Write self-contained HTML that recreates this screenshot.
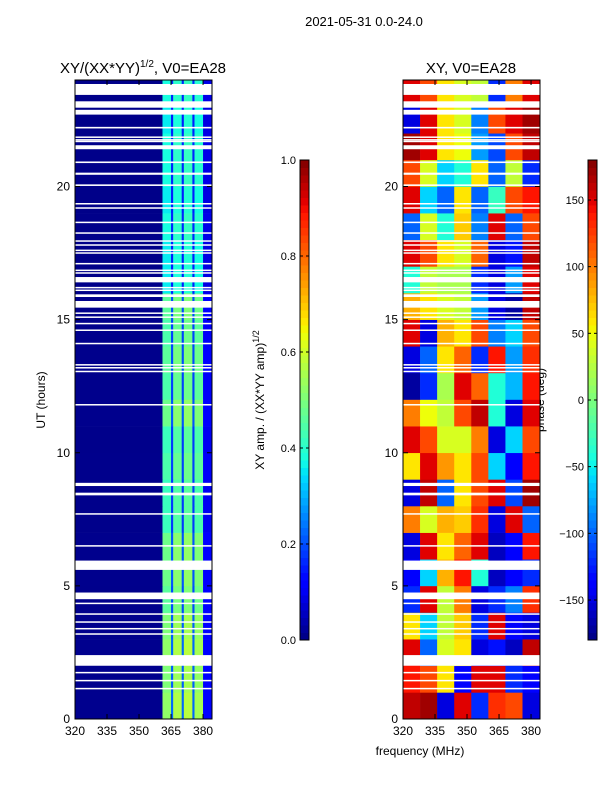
<!DOCTYPE html>
<html><head><meta charset="utf-8">
<style>
body{margin:0;background:#fff;font-family:"Liberation Sans",sans-serif;}
svg text{font-family:"Liberation Sans","DejaVu Sans",sans-serif;fill:#000;}
</style></head>
<body>
<svg id="fig" width="600" height="800" xmlns="http://www.w3.org/2000/svg">
<text x="364" y="26" font-size="13" text-anchor="middle">2021-05-31 0.0-24.0</text>
<text x="143" y="73" font-size="15" text-anchor="middle">XY/(XX*YY)<tspan font-size="10" dy="-6">1/2</tspan><tspan dy="6">, V0=EA28</tspan></text>
<text x="471" y="73" font-size="15" text-anchor="middle">XY, V0=EA28</text>
<text x="0" y="0" font-size="12" text-anchor="middle" transform="translate(45,400) rotate(-90)">UT (hours)</text>
<text x="420" y="755" font-size="12" text-anchor="middle">frequency (MHz)</text>
<text x="0" y="0" font-size="12" text-anchor="middle" transform="translate(264,400) rotate(-90)">XY amp. / (XX*YY amp)<tspan font-size="9" dy="-5">1/2</tspan></text>
<text x="0" y="0" font-size="12" text-anchor="middle" transform="translate(544,400) rotate(-90)">phase (deg)</text>
<g id="g"></g>
</svg>
<script>
// ---- data ----
const freqEdgesL=[320,361,365,366,370,371,375,376,380,384];
const ampCols=[0.01,0.42,0.18,0.45,0.18,0.46,0.18,0.44,0.1];
const hours=[0,1,2,3,4,5,6,7,8,9,10,11,12,13,14,15,16,17,18,19,20,21,22,23];
const ampRowScale=[1.25,1.2,1.25,1.2,1.1,1.15,1.15,1.0,1.0,1.05,1.0,1.15,1.05,1.1,1.05,1.1,0.85,0.85,0.9,0.85,0.9,0.9,0.85,0.9];
const phaseFreqEdges=[320,328,336,344,352,360,368,376,384];
const phase=[
[160,170,-150,150,-120,130,120,-150],
[140,120,60,-140,150,150,-120,-140],
[150,-100,40,60,-150,-130,-160,160],
[60,-60,30,70,-120,150,-140,-150],
[-120,150,30,100,-150,-120,-90,130],
[-140,-60,80,140,-40,-160,-140,-120],
[-150,150,60,110,150,-160,-140,140],
[100,40,80,70,130,-150,150,-100],
[-150,160,-100,60,120,150,-110,170],
[60,150,90,60,120,-60,-140,140],
[150,120,40,40,100,-150,-60,120],
[100,50,30,120,160,-40,-150,150],
[-170,-120,20,150,110,-40,-70,140],
[-150,-100,60,110,-120,140,-80,130],
[150,-150,80,60,120,-90,-60,120],
[80,60,40,30,-80,-150,-170,160],
[-40,30,20,20,-120,-150,-80,150],
[150,120,60,40,110,-150,-130,160],
[-100,40,-40,70,-90,150,-100,120],
[150,-60,-100,60,-100,-30,120,140],
[120,40,-60,-40,60,-100,30,-120],
[170,150,60,50,-80,-110,120,160],
[-150,150,60,40,-90,120,150,170],
[150,120,60,40,30,-120,100,150]];
const flagged=[[23.44,23.85],[22.96,23.2],[22.7,22.88],[22.18,22.24],[21.84,21.88],[21.74,21.78],[21.68,21.72],[21.4,21.55],[20.88,20.94],[20.44,20.52],[20.02,20.08],[19.33,19.38],[19.18,19.22],[18.63,18.68],[18.23,18.28],[17.93,17.98],[17.78,17.83],[17.58,17.63],[17.48,17.53],[17.08,17.13],[16.83,16.88],[16.73,16.78],[16.4,16.6],[16.18,16.23],[16.08,16.13],[15.85,15.95],[15.45,15.7],[15.22,15.27],[15.08,15.12],[14.83,14.88],[14.58,14.63],[14.08,14.13],[13.28,13.33],[13.18,13.22],[13.03,13.08],[11.78,11.83],[8.75,8.87],[8.4,8.5],[7.68,7.73],[6.48,6.53],[5.6,5.95],[4.5,4.75],[4.33,4.37],[3.93,3.97],[3.63,3.67],[3.38,3.42],[3.18,3.22],[2.0,2.4],[1.73,1.77],[1.43,1.47],[1.13,1.17]];
const ampTicks=[0.0,0.2,0.4,0.6,0.8,1.0];
const phaseTicks=[-150,-100,-50,0,50,100,150];
const xTicks=[320,335,350,365,380];
const yTicks=[0,5,10,15,20];

// ---- helpers ----
const NS="http://www.w3.org/2000/svg";
const G=document.getElementById('g');
function seg(pts,v){for(let i=1;i<pts.length;i++){if(v<=pts[i][0]){const a=pts[i-1],b=pts[i];return a[1]+(b[1]-a[1])*(v-a[0])/(b[0]-a[0]);}}return pts[pts.length-1][1];}
const JR=[[0,0],[0.35,0],[0.66,1],[0.89,1],[1,0.5]];
const JG=[[0,0],[0.125,0],[0.375,1],[0.64,1],[0.91,0],[1,0]];
const JB=[[0,0.5],[0.11,1],[0.34,1],[0.65,0],[1,0]];
function jet(v){v=Math.max(0,Math.min(1,v));
 return `rgb(${Math.round(seg(JR,v)*255)},${Math.round(seg(JG,v)*255)},${Math.round(seg(JB,v)*255)})`;}
function mk(tag,attrs,parent){const e=document.createElementNS(NS,tag);for(const k in attrs)e.setAttribute(k,attrs[k]);(parent||G).appendChild(e);return e;}
const T=80,B=719;
const yS=u=>B-(u/24)*(B-T);
const panels=[{x0:75,x1:212},{x0:403,x1:540}];
function xS(p,f){return p.x0+(f-320)*(p.x1-p.x0)/64.2;}

panels.forEach((p,pi)=>{
 const grp=mk('g',{});
 
 
 if(pi===0){
  hours.forEach((h,hi)=>{
   for(let c=0;c<ampCols.length;c++){
    const x=xS(p,freqEdgesL[c]),x2=Math.min(p.x1,xS(p,freqEdgesL[c+1]));
    const r=mk('rect',{x:x,y:yS(h+1),width:x2-x+0.3,height:yS(h)-yS(h+1)+0.3,fill:jet(ampCols[c]*ampRowScale[hi])},grp);
    
    
   }
  });
 } else {
  phase.forEach((row,hi)=>{
   row.forEach((v,c)=>{
    const x=xS(p,phaseFreqEdges[c]),x2=Math.min(p.x1,xS(p,phaseFreqEdges[c+1]));
    const r=mk('rect',{x:x,y:yS(hours[hi]+1),width:x2-x+0.3,height:yS(hours[hi])-yS(hours[hi]+1)+0.3,fill:jet((v+180)/360)},grp);
    
    
   });
  });
 }
 flagged.forEach(fl=>{
  const r=mk('rect',{x:p.x0,y:yS(fl[1]),width:p.x1-p.x0,height:Math.max(1.5,yS(fl[0])-yS(fl[1])),fill:'#fff'},grp);
  
  
 });
 const fr=mk('rect',{x:p.x0,y:T,width:p.x1-p.x0,height:B-T,fill:'none',stroke:'#000','stroke-width':1});
 
 
 xTicks.forEach(t=>{const x=xS(p,t);
  mk('line',{x1:x,x2:x,y1:B,y2:B-5,stroke:'#000'});mk('line',{x1:x,x2:x,y1:T,y2:T+5,stroke:'#000'});
  const tx=mk('text',{x:x,y:B+16,'font-size':12,'text-anchor':'middle'});tx.textContent=t;
  
  });
 yTicks.forEach(t=>{const y=yS(t);
  mk('line',{x1:p.x0,x2:p.x0+5,y1:y,y2:y,stroke:'#000'});mk('line',{x1:p.x1,x2:p.x1-5,y1:y,y2:y,stroke:'#000'});
  const tx=mk('text',{x:p.x0-5,y:y+4,'font-size':12,'text-anchor':'end'});tx.textContent=t;
  
  });
});

function colorbar(x,ticks,lo,hi,name){
 const cg=mk('g',{});
 
 
 const cT=160,cB=640,n=64;
 for(let i=0;i<n;i++){const y=cB-(i+1)*(cB-cT)/n;
  mk('rect',{x:x,y:y,width:9,height:(cB-cT)/n+0.5,fill:jet((i+0.5)/n)},cg);}
 mk('rect',{x:x,y:cT,width:9,height:cB-cT,fill:'none',stroke:'#000'},cg);
 ticks.forEach(t=>{const y=cB-(t-lo)/(hi-lo)*(cB-cT);
  mk('line',{x1:x,x2:x+3,y1:y,y2:y,stroke:'#000'},cg);mk('line',{x1:x+9,x2:x+6,y1:y,y2:y,stroke:'#000'},cg);
  const tx=mk('text',{x:x-4,y:y+4,'font-size':11,'text-anchor':'end'},cg);
  tx.textContent=(name==='amp-colorbar')?t.toFixed(1):(t<0?'\u2212'+(-t):t);
  
  });
}
colorbar(300,ampTicks,0,1,'amp-colorbar');
colorbar(588,phaseTicks,-180,180,'phase-colorbar');
</script>
</body></html>
